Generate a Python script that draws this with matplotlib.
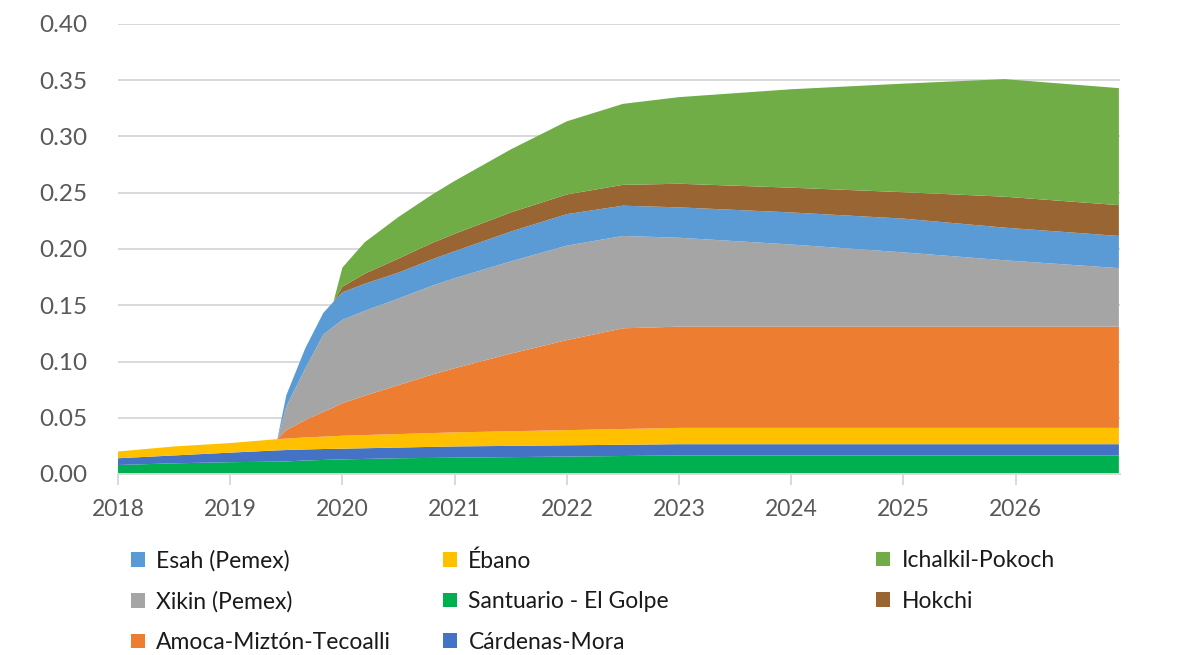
import matplotlib
matplotlib.use("Agg")
import matplotlib.pyplot as plt
from matplotlib.patches import Patch

plt.rcParams['font.family'] = ['Lato', 'DejaVu Sans']

# Time axis (fractional years)
years = [2018.0, 2018.5, 2019.0, 2019.42, 2019.5, 2019.67, 2019.83, 2019.92, 2020.0,
         2020.2, 2020.5, 2020.8, 2021.0, 2021.5, 2022.0, 2022.5, 2023.0, 2024.0,
         2025.0, 2025.9, 2026.92]

# Production by field (stacked bottom-up)
santuario = [0.008, 0.0095, 0.0105, 0.011, 0.0112, 0.012, 0.0125, 0.0128, 0.013,
             0.0134, 0.014, 0.0143, 0.0145, 0.015, 0.0155, 0.016, 0.0165, 0.0165,
             0.0165, 0.0165, 0.0165]
cardenas = [0.006, 0.007, 0.0085, 0.010, 0.0101, 0.0098, 0.0097, 0.0096, 0.0095,
            0.0095, 0.0095, 0.0098, 0.010, 0.010, 0.010, 0.010, 0.010, 0.010,
            0.010, 0.010, 0.010]
ebano = [0.006, 0.008, 0.0085, 0.010, 0.0102, 0.0107, 0.011, 0.0112, 0.0115,
         0.0117, 0.012, 0.0123, 0.0125, 0.013, 0.0135, 0.014, 0.0145, 0.0145,
         0.0145, 0.0145, 0.0145]
amoca = [0, 0, 0, 0, 0.0075, 0.0155, 0.022, 0.0255, 0.029,
         0.035, 0.0435, 0.052, 0.057, 0.069, 0.080, 0.0895, 0.090, 0.090,
         0.090, 0.090, 0.090]
xikin = [0, 0, 0, 0, 0.021, 0.046, 0.0686, 0.072, 0.074,
         0.0755, 0.077, 0.079, 0.080, 0.082, 0.084, 0.0821, 0.079, 0.073,
         0.066, 0.059, 0.052]
esah = [0, 0, 0, 0, 0.010, 0.018, 0.0194, 0.022, 0.0245,
        0.024, 0.023, 0.0235, 0.024, 0.0265, 0.028, 0.0269, 0.027, 0.0285,
        0.030, 0.029, 0.0286]
hokchi = [0, 0, 0, 0, 0, 0, 0, 0, 0.005,
          0.009, 0.0125, 0.0145, 0.0155, 0.017, 0.0175, 0.0185, 0.021, 0.022,
          0.0235, 0.0275, 0.0274]
ichalkil = [0, 0, 0, 0, 0, 0, 0, 0, 0.017,
            0.028, 0.037, 0.043, 0.047, 0.056, 0.065, 0.072, 0.077, 0.0875,
            0.0965, 0.1045, 0.104]

names = ["Santuario - El Golpe", "Cárdenas-Mora", "Ébano", "Amoca-Miztón-Tecoalli",
         "Xikin (Pemex)", "Esah (Pemex)", "Hokchi", "Ichalkil-Pokoch"]
colors = ["#00B050", "#4472C4", "#FFC000", "#ED7D31",
          "#A5A5A5", "#5B9BD5", "#996633", "#70AD47"]
series = [santuario, cardenas, ebano, amoca, xikin, esah, hokchi, ichalkil]

year_ticks = list(range(2018, 2027))
y_ticks = [0.00, 0.05, 0.10, 0.15, 0.20, 0.25, 0.30, 0.35, 0.40]

fig = plt.figure(figsize=(11.89, 6.55), dpi=100)
ax = fig.add_axes([118 / 1189, 181 / 655, (1120 - 118) / 1189, 450 / 655])

ax.stackplot(years, *series, colors=colors, linewidth=0, zorder=2)

ax.set_xlim(2018, 2026.93)
ax.set_ylim(0, 0.40)
ax.set_yticks(y_ticks)
ax.set_yticklabels([f"{v:.2f}" for v in y_ticks])
ax.set_xticks(year_ticks)
ax.set_xticklabels([str(y) for y in year_ticks])

ax.grid(axis='y', color='#D9D9D9', linewidth=1.4, zorder=0)
ax.set_axisbelow(True)
for side in ('top', 'right', 'left'):
    ax.spines[side].set_visible(False)
ax.spines['bottom'].set_color('#D9D9D9')
ax.spines['bottom'].set_linewidth(1.4)
ax.spines['bottom'].set_zorder(3)
ax.tick_params(axis='y', length=0, pad=22, labelsize=17.5, labelcolor='#595959')
ax.tick_params(axis='x', length=8, width=1.4, color='#D9D9D9', pad=10,
               labelsize=16.5, labelcolor='#595959')

# Legend drawn as three separate columns
handles = {n: Patch(facecolor=c, edgecolor='none') for n, c in zip(names, colors)}
columns = [
    (["Esah (Pemex)", "Xikin (Pemex)", "Amoca-Miztón-Tecoalli"], 122),
    (["Ébano", "Santuario - El Golpe", "Cárdenas-Mora"], 434),
    (["Ichalkil-Pokoch", "Hokchi"], 867),
]
for labels, xpix in columns:
    leg = fig.legend([handles[l] for l in labels], labels, loc='upper left',
                     bbox_to_anchor=(xpix / 1189, 1 - 541 / 655), frameon=False,
                     fontsize=16.5, handlelength=0.6, handleheight=0.6,
                     handletextpad=0.5, labelspacing=0.85, borderaxespad=0)
    for t in leg.get_texts():
        t.set_color('#1A1A1A')

fig.savefig("out.png", dpi=100)
